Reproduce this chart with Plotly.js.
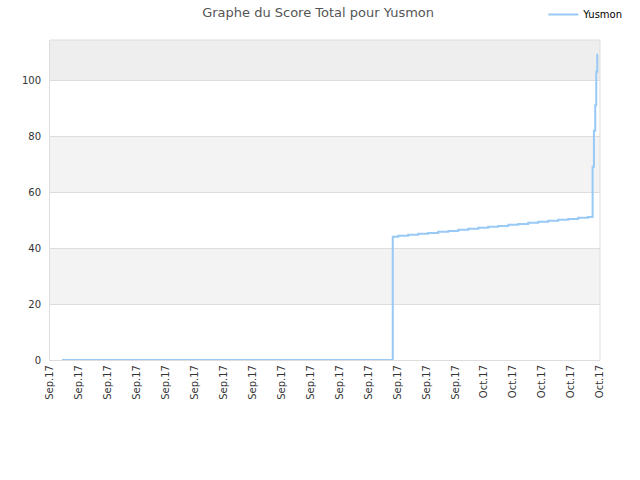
<!DOCTYPE html>
<html>
<head>
<meta charset="utf-8">
<script src="https://cdn.plot.ly/plotly-3.0.1.min.js"></script>
<style>
  html, body { margin: 0; padding: 0; background: #fff; }
  #chart { width: 640px; height: 480px; }
</style>
</head>
<body>
<div id="chart"></div>
<script>
    // --- DATA ---
    const playerName = 'Yusmon';

    // x in days since the start of the axis, y = total score (step chart)
    const scoreDays = [
        0.83, 23.68, 24.06, 24.75, 25.44, 26.13, 26.82, 27.52, 28.21, 28.90,
        29.59, 30.28, 30.97, 31.66, 32.35, 33.04, 33.73, 34.42, 35.11, 35.80,
        36.49, 37.18, 37.49, 37.58, 37.67, 37.74, 37.81, 37.86
    ];
    const scoreValues = [
        0, 44.0, 44.4, 44.7, 45.1, 45.4, 45.8, 46.1, 46.5, 46.9,
        47.2, 47.6, 47.9, 48.3, 48.6, 49.0, 49.4, 49.7, 50.1, 50.4,
        50.8, 51.1, 69.0, 81.9, 91.0, 103.0, 109.0, 109.0
    ];

    const tickLabels = [
        'Sep.17', 'Sep.17', 'Sep.17', 'Sep.17', 'Sep.17', 'Sep.17', 'Sep.17',
        'Sep.17', 'Sep.17', 'Sep.17', 'Sep.17', 'Sep.17', 'Sep.17', 'Sep.17',
        'Sep.17', 'Oct.17', 'Oct.17', 'Oct.17', 'Oct.17', 'Oct.17'
    ];
    const yTicks = [0, 20, 40, 60, 80, 100];

    // --- STYLE ---
    const colors = {
        line: '#99c9f5',
        text: '#444444',
        axis: '#dddddd',
        bandLight: '#f3f3f3',
        bandTop: '#eeeeee'
    };
    const tickStep = 2;          // days between x labels
    const yMax = 114.3;

    const tickVals = tickLabels.map((_, i) => i * tickStep);
    const xMax = (tickLabels.length - 1) * tickStep;

    // alternating background bands
    const bands = [
        { y0: 20, y1: 40, color: colors.bandLight },
        { y0: 60, y1: 80, color: colors.bandLight },
        { y0: 100, y1: yMax, color: colors.bandTop }
    ];
    const shapes = bands.map(b => ({
        type: 'rect', xref: 'paper', yref: 'y', x0: 0, x1: 1, y0: b.y0, y1: b.y1,
        fillcolor: b.color, line: { width: 0 }, layer: 'below'
    }));
    // plot frame (top + right)
    shapes.push({ type: 'line', xref: 'paper', yref: 'paper', x0: 0, x1: 1, y0: 1, y1: 1,
        line: { color: colors.axis, width: 1 } });
    shapes.push({ type: 'line', xref: 'paper', yref: 'paper', x0: 1, x1: 1, y0: 0, y1: 1,
        line: { color: colors.axis, width: 1 } });

    const trace = {
        type: 'scatter',
        mode: 'lines',
        name: playerName,
        x: scoreDays,
        y: scoreValues,
        line: { color: colors.line, width: 2, shape: 'hv' },
        hoverinfo: 'y'
    };

    const layout = {
        width: 640,
        height: 480,
        margin: { l: 50, r: 40, t: 40, b: 120, autoexpand: false },
        paper_bgcolor: '#ffffff',
        plot_bgcolor: '#ffffff',
        font: { family: 'DejaVu Sans', size: 10, color: '#333333' },
        title: {
            text: 'Graphe du Score Total pour ' + playerName,
            font: { family: 'DejaVu Sans', size: 13, color: '#555555' },
            x: 0.497, xanchor: 'center', y: 0.975, yanchor: 'middle'
        },
        showlegend: true,
        legend: {
            x: 0.897, xanchor: 'left', y: 1.125, yanchor: 'top',
            bgcolor: 'rgba(0,0,0,0)',
            font: { family: 'DejaVu Sans', size: 10, color: '#000000' }
        },
        xaxis: {
            range: [0, xMax],
            tickmode: 'array',
            tickvals: tickVals,
            ticktext: tickLabels,
            tickangle: -90,
            ticks: '',
            showgrid: false,
            zeroline: false,
            showline: true,
            linecolor: colors.axis,
            linewidth: 1,
            fixedrange: true
        },
        yaxis: {
            range: [0, yMax],
            tickmode: 'array',
            tickvals: yTicks,
            ticks: '',
            ticklabelstandoff: 6,
            showgrid: true,
            gridcolor: colors.axis,
            zeroline: false,
            showline: true,
            linecolor: colors.axis,
            linewidth: 1,
            fixedrange: true
        },
        shapes: shapes
    };

    Plotly.newPlot('chart', [trace], layout, { displayModeBar: false, staticPlot: true });
</script>
</body>
</html>
